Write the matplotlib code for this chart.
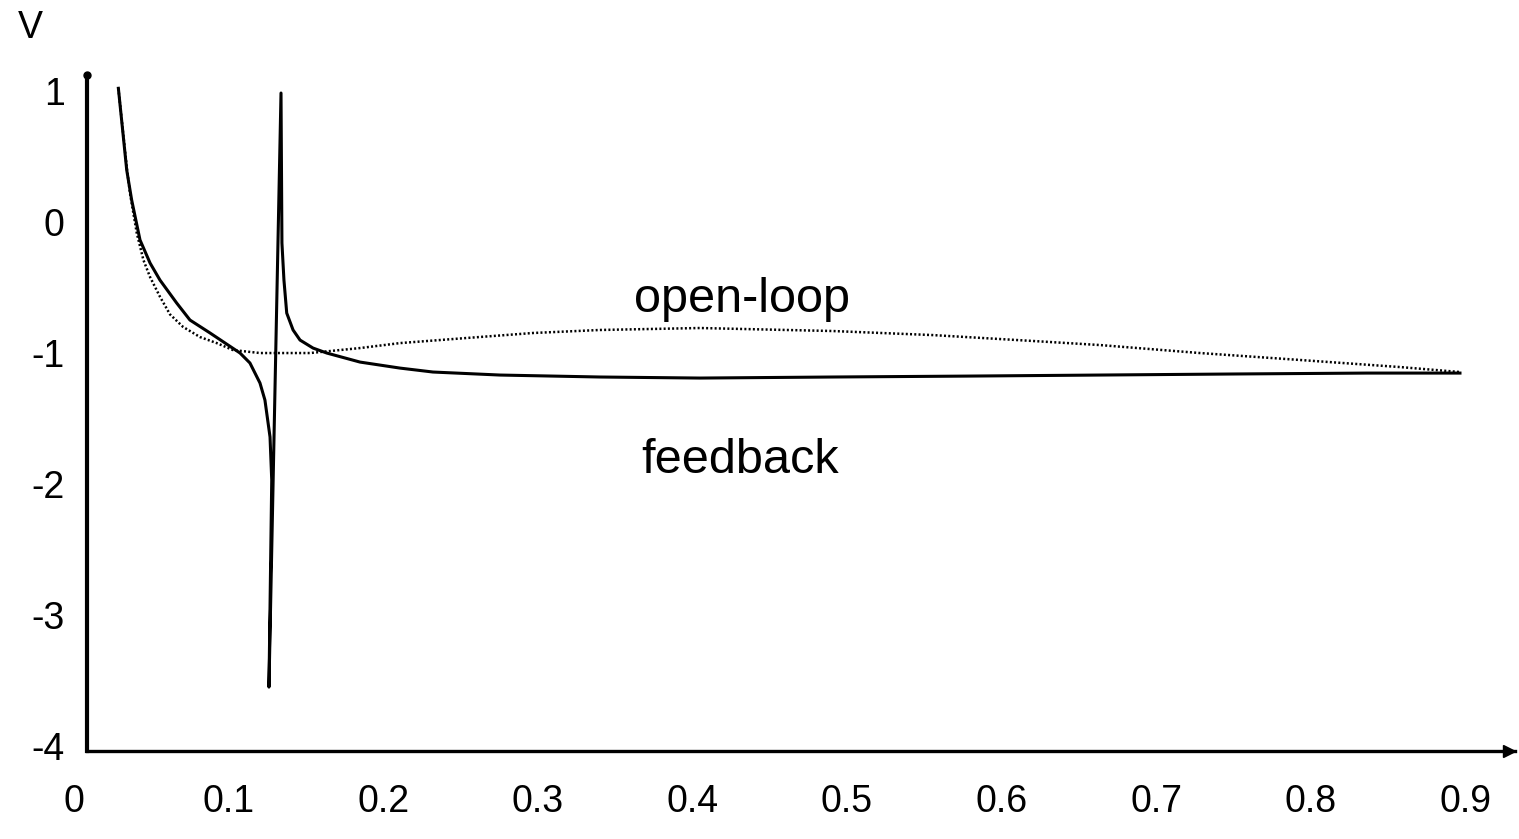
import matplotlib.pyplot as plt

plt.rcParams['font.family'] = ['Liberation Sans', 'DejaVu Sans']
plt.rcParams['axes.unicode_minus'] = False

# feedback response (solid)
x_feedback = [0.0287, 0.0341, 0.0373, 0.0427, 0.0492, 0.0556, 0.0664, 0.0750, 0.0880,
              0.1074, 0.1138, 0.1203, 0.1235, 0.1268, 0.1279, 0.1261, 0.1339, 0.1345,
              0.1358, 0.1376, 0.1417, 0.1462, 0.1546, 0.1635, 0.1850, 0.2109, 0.2322,
              0.2755, 0.3402, 0.4049, 0.4909, 0.5776, 0.6636, 0.7497, 0.8363, 0.8965]
v_feedback = [1.021, 0.397, 0.168, -0.137, -0.313, -0.443, -0.618, -0.748, -0.847,
              -1.000, -1.076, -1.229, -1.359, -1.641, -1.969, -3.550, 0.985, -0.160,
              -0.443, -0.695, -0.824, -0.901, -0.962, -1.000, -1.069, -1.115, -1.145,
              -1.168, -1.183, -1.191, -1.183, -1.176, -1.168, -1.160, -1.153, -1.153]

# open-loop response (dotted)
x_open = [0.0287, 0.0341, 0.0362, 0.0406, 0.0449, 0.0492, 0.0556, 0.0621, 0.0705,
          0.0815, 0.0923, 0.1028, 0.1203, 0.1527, 0.1850, 0.2109, 0.2542, 0.2969,
          0.3402, 0.4049, 0.4909, 0.5556, 0.6203, 0.6636, 0.7283, 0.7930, 0.8577, 0.8965]
v_open = [1.021, 0.420, 0.221, -0.084, -0.290, -0.420, -0.570, -0.705, -0.800,
          -0.878, -0.924, -0.977, -1.000, -1.000, -0.962, -0.924, -0.885, -0.847,
          -0.824, -0.809, -0.832, -0.863, -0.908, -0.939, -1.000, -1.053, -1.107, -1.145]

x_ticks = [0, 0.1, 0.2, 0.3, 0.4, 0.5, 0.6, 0.7, 0.8, 0.9]
x_tick_labels = ['0', '0.1', '0.2', '0.3', '0.4', '0.5', '0.6', '0.7', '0.8', '0.9']
y_ticks = [1, 0, -1, -2, -3, -4]

fig = plt.figure(figsize=(15.19, 8.39), dpi=100)
ax = fig.add_axes([74 / 1519, 88 / 839, 1441 / 1519, 691 / 839])

x_left, x_right = 0.0, 0.9321
y_bottom, y_top = -4.038, 1.237
ax.set_xlim(x_left, x_right)
ax.set_ylim(y_bottom, y_top)

ax.plot(x_feedback, v_feedback, color='black', lw=2.2, solid_joinstyle='round')
ax.plot(x_open, v_open, color='black', lw=1.8, linestyle=(0, (0.8, 0.9)))

ax.text(0.432, -0.595, 'open-loop', ha='center', va='center', fontsize=35)
ax.text(0.431, -1.817, 'feedback', ha='center', va='center', fontsize=35)

# axes drawn as plain lines with no tick marks
for side in ['top', 'right']:
    ax.spines[side].set_visible(False)
ax.spines['left'].set_position(('data', 0.0084))
ax.spines['left'].set_bounds(y_bottom, 1.12)
ax.spines['left'].set_linewidth(3)
ax.spines['bottom'].set_bounds(0.0084, x_right)
ax.spines['bottom'].set_linewidth(2.4)
ax.plot(0.0084, 1.12, 'o', color='black', ms=5, clip_on=False)
ax.plot(x_right - 0.004, y_bottom, '>', color='black', ms=8, clip_on=False)

ax.set_xticks(x_ticks)
ax.set_xticklabels(x_tick_labels)
ax.set_yticks(y_ticks)
ax.tick_params(axis='both', length=0, labelsize=27)
ax.tick_params(axis='x', pad=24)
ax.tick_params(axis='y', pad=16)

fig.text(30 / 1519, 1 - 28 / 839, 'V', ha='center', va='center', fontsize=27)

fig.savefig('out.png', dpi=100)
